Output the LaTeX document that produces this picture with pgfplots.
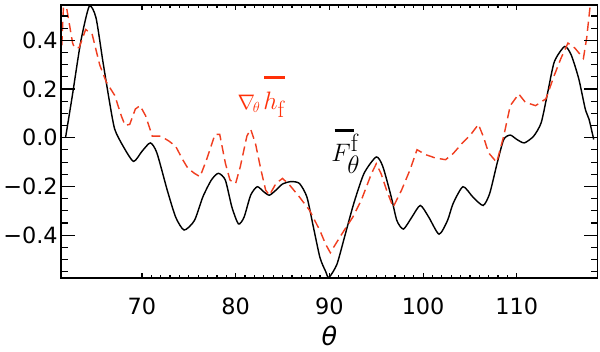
\documentclass[border=0pt]{standalone}
\usepackage{fontspec}
\setmainfont{DejaVu Sans}
\newfontfamily\lmr{Latin Modern Roman}
\usepackage{amsmath}
\usepackage{pgfplots}
\pgfplotsset{compat=1.18}
\definecolor{IDLred}{RGB}{240,62,32}
\definecolor{LabelRed}{RGB}{255,48,8}

\pgfplotsset{
  frame/.style={
    scale only axis,
    width=527bp, height=268bp,
    xmin=61.4, xmax=118.6,
    ymin=-0.575, ymax=0.545,
    tick align=inside,
    tick style={draw=black, solid, line width=1.2bp},
    axis line style={line width=1.6bp},
    /pgf/number format/assume math mode=true,
    ticklabel style={font=\fontsize{22bp}{26bp}\selectfont},
  }
}

\begin{document}
\begin{tikzpicture}
% data axis (no ticks)
\begin{axis}[
    frame,
    xtick=\empty, ytick=\empty,
    clip=true,
]
% black solid curve
\addplot[black, line width=1.4bp, smooth, tension=0.4] coordinates {
(61.85,0.0) (62.58,0.174) (63.48,0.396) (64.38,0.54) (65.1,0.493)
(65.84,0.3125) (66.55,0.146) (67.1,0.035) (68.0,-0.035) (69.1,-0.097)
(70.0,-0.056) (70.9,-0.021) (71.6,-0.0625) (72.7,-0.215) (73.6,-0.326)
(74.5,-0.379) (75.6,-0.34) (76.5,-0.243) (77.4,-0.174) (78.15,-0.146)
(78.9,-0.174) (79.6,-0.285) (80.3,-0.354) (80.9,-0.326) (81.6,-0.236)
(82.3,-0.201) (83.0,-0.222) (83.6,-0.236) (84.3,-0.215) (85.0,-0.19)
(85.9,-0.18) (86.8,-0.1875) (87.6,-0.243) (88.3,-0.368) (89.0,-0.493)
(89.6,-0.549) (89.95,-0.574) (90.8,-0.52) (91.6,-0.41) (92.6,-0.27)
(93.7,-0.146) (95.0,-0.079) (95.7,-0.118) (96.6,-0.243) (97.2,-0.34)
(97.9,-0.375) (98.8,-0.326) (99.7,-0.278) (100.6,-0.326) (101.7,-0.396)
(102.6,-0.34) (103.2,-0.27) (104.25,-0.201) (105.3,-0.243) (106.4,-0.278)
(107.1,-0.229) (107.9,-0.104) (108.6,-0.007) (109.3,0.011) (110.0,-0.007)
(110.8,-0.021) (111.8,0.007) (112.6,0.0625) (113.3,0.1875) (114.0,0.3125)
(115.1,0.375) (115.8,0.34) (116.6,0.243) (117.3,0.118) (117.7,0.076)
(118.2,-0.007)
};
% red dashed curve
\addplot[IDLred, line width=1.4bp, dash pattern=on 9bp off 5bp] coordinates {
(61.45,0.38) (61.7,0.60) (61.85,0.56) (62.6,0.39) (62.8,0.37) (63.3,0.37)
(64.0,0.445) (64.7,0.424) (65.5,0.299) (66.2,0.229) (67.1,0.174)
(67.8,0.09) (68.2,0.051) (68.7,0.055) (69.3,0.118) (69.8,0.132)
(70.4,0.09) (71.1,0.007) (72.0,0.007) (72.9,-0.014) (73.6,-0.035)
(74.35,-0.09) (74.9,-0.125) (75.6,-0.146) (76.2,-0.16) (76.9,-0.09)
(77.8,0.014) (78.3,0.014) (78.9,-0.104) (79.4,-0.174) (80.0,-0.1875)
(80.5,-0.118) (81.2,0.007) (81.6,0.035) (82.1,-0.021) (82.7,-0.132)
(83.2,-0.215) (83.6,-0.236) (84.3,-0.1875) (85.0,-0.167) (85.75,-0.194)
(86.8,-0.243) (87.9,-0.299) (89.0,-0.382) (89.6,-0.4375) (90.1,-0.472)
(90.65,-0.4375) (91.55,-0.382) (92.5,-0.326) (93.4,-0.257) (94.5,-0.146)
(95.0,-0.107) (95.5,-0.146) (96.1,-0.215) (96.8,-0.285) (97.7,-0.215)
(98.6,-0.132) (99.35,-0.049) (100.25,-0.069) (101.3,-0.083) (102.4,-0.09)
(103.2,-0.065) (104.2,-0.021) (105.1,0.014) (105.9,0.055) (106.4,0.007)
(107.0,-0.0625) (107.85,-0.101) (108.6,0.007) (109.3,0.132) (110.2,0.18)
(110.9,0.146) (112.0,0.132) (113.1,0.16) (114.0,0.257) (114.7,0.326)
(115.45,0.389) (116.2,0.368) (117.1,0.326) (117.45,0.41) (117.8,0.535)
(118.1,0.65)
};
% curve labels
\node[text=LabelRed, anchor=base west, inner sep=0pt] at (axis cs:80.2,0.117)
  {\fontsize{21bp}{25bp}\selectfont$\nabla_{\!\theta}$\hspace{3bp}\fontsize{33bp}{37bp}\selectfont\makebox[0pt][l]{\hspace{1bp}\raisebox{30bp}{\rule{20bp}{3bp}}}$h_{\text{\lmr f}}$};
\node[text=black, anchor=base west, inner sep=0pt] at (axis cs:90.2,-0.096)
  {\fontsize{35bp}{39bp}\selectfont\makebox[0pt][l]{\hspace{3bp}\raisebox{29bp}{\rule{19bp}{3bp}}}$F^{\text{\lmr f}}_{\theta}$};
\coordinate (tr) at (rel axis cs:1,1);
\coordinate (bl) at (rel axis cs:0,0);
\end{axis}
% axis carrying the x ticks (short ticks)
\begin{axis}[
    frame,
    xtick={70,80,90,100,110},
    minor x tick num=9,
    ytick=\empty,
    major tick length=5bp, minor tick length=2.5bp,
    xticklabel style={anchor=center, yshift=-28bp},
    xlabel={\textit{θ}},
    xlabel style={at={(axis description cs:0.5,0)}, anchor=center, yshift=-57bp,
      inner sep=0pt, font=\fontsize{25bp}{29bp}\selectfont},
]
\end{axis}
% axis carrying the y tick labels; the long y ticks are drawn on both sides
\begin{axis}[
    frame,
    xtick=\empty,
    ytick={-0.4,-0.2,0,0.2,0.4},
    yticklabels={−0.4,−0.2,0.0,0.2,0.4},
    major tick length=0bp,
]
\pgfplotsinvokeforeach{-0.4,-0.2,0,0.2,0.4}{
  \draw[line width=1.2bp] (axis cs:61.4,#1) -- ([xshift=13bp]axis cs:61.4,#1);
  \draw[line width=1.2bp] (axis cs:118.6,#1) -- ([xshift=-13bp]axis cs:118.6,#1);
}
\pgfplotsinvokeforeach{-0.55,-0.5,-0.45,-0.35,-0.3,-0.25,-0.15,-0.1,-0.05,0.05,0.1,0.15,0.25,0.3,0.35,0.45,0.5}{
  \draw[line width=1.1bp] (axis cs:61.4,#1) -- ([xshift=6.5bp]axis cs:61.4,#1);
  \draw[line width=1.1bp] (axis cs:118.6,#1) -- ([xshift=-6.5bp]axis cs:118.6,#1);
}
\end{axis}
\path (tr) ++(2.5bp,5bp);
\path (bl) ++(0,-72bp);
\end{tikzpicture}
\end{document}
